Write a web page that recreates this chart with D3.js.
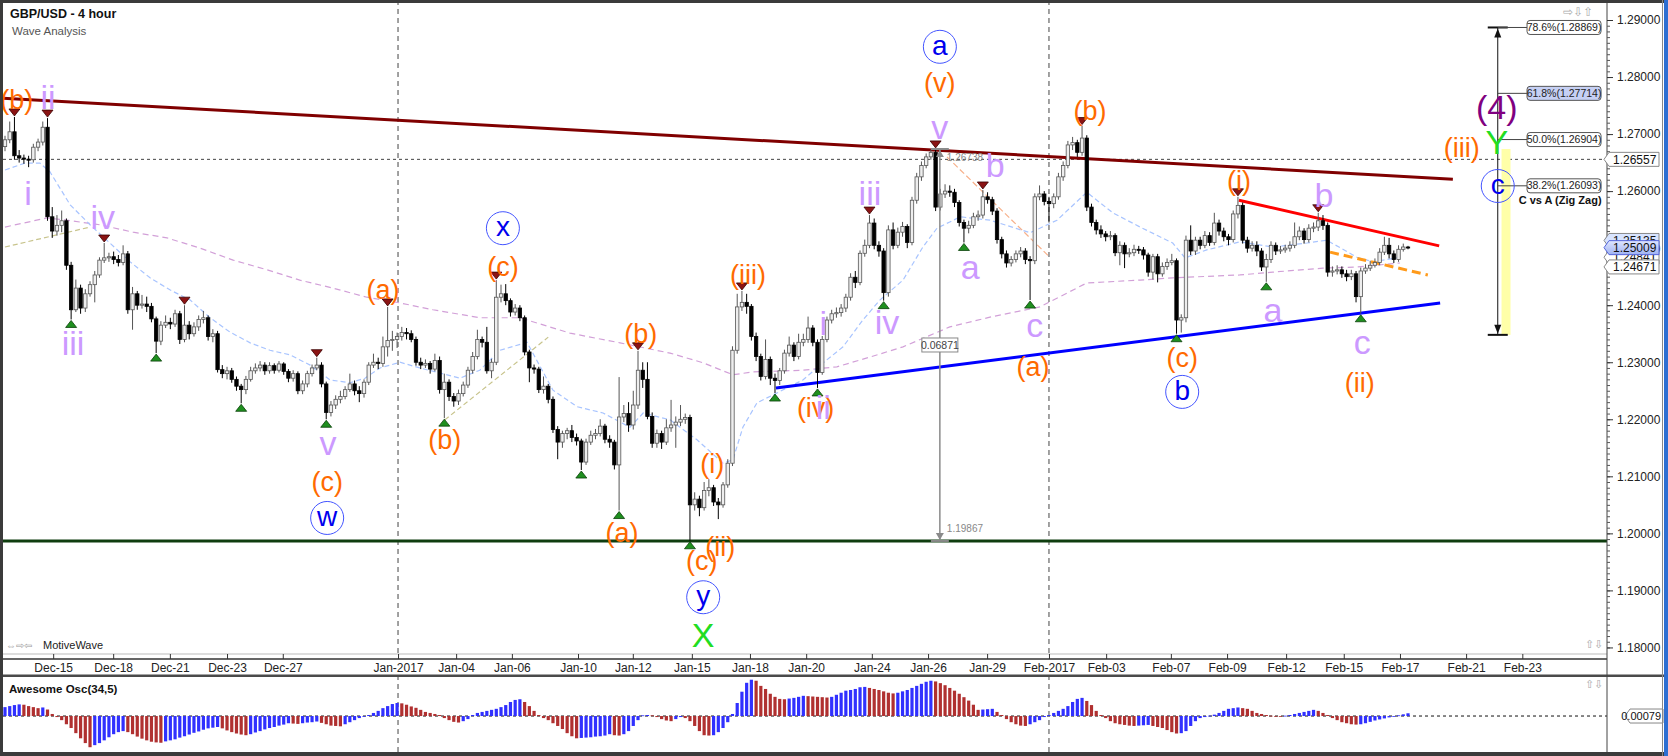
<!DOCTYPE html>
<html>
<head>
<meta charset="utf-8">
<title>GBP/USD - 4 hour</title>
<script src="https://cdn.jsdelivr.net/npm/d3@7/dist/d3.min.js"></script>
<style>
  body { margin: 0; background: #fff; }
  svg text { font-family: "Liberation Sans", Arial, sans-serif; }
</style>
</head>
<body>
<svg id="chart" width="1668" height="756"></svg>
<script>
// price values in 1/10000 above 1.0000 (2690 -> 1.2690), one entry per 4 hour bar
const firstOpen = 2678;
const closes = [
  2690,2704,2662,2658,2656,2655,2677,2686,2712,2555,
  2530,2540,2548,2470,2392,2430,2395,2420,2436,2453,
  2479,2483,2485,2480,2475,2490,2392,2420,2400,2402,
  2398,2376,2337,2365,2370,2367,2385,2340,2365,2350,
  2362,2375,2378,2345,2350,2287,2280,2285,2270,2258,
  2252,2270,2285,2290,2295,2285,2294,2286,2297,2284,
  2272,2280,2250,2262,2280,2290,2295,2262,2212,2225,
  2235,2240,2252,2262,2250,2245,2265,2295,2300,2298,
  2327,2338,2340,2345,2352,2350,2340,2300,2295,2298,
  2288,2303,2252,2265,2240,2232,2245,2260,2286,2310,
  2340,2335,2285,2300,2414,2420,2408,2388,2395,2378,
  2318,2290,2288,2252,2258,2235,2182,2160,2175,2180,
  2168,2162,2125,2160,2172,2175,2188,2165,2160,2120,
  2204,2210,2190,2225,2286,2270,2205,2158,2175,2160,
  2185,2190,2195,2200,2203,2050,2060,2045,2075,2080,
  2055,2050,2085,2123,2321,2397,2405,2398,2345,2310,
  2275,2305,2272,2268,2285,2316,2330,2310,2335,2340,
  2360,2335,2282,2340,2374,2385,2387,2395,2414,2449,
  2440,2491,2505,2544,2505,2495,2422,2532,2505,2528,
  2538,2510,2584,2625,2645,2660,2668,2572,2595,2600,
  2598,2580,2545,2535,2540,2555,2558,2590,2585,2565,
  2515,2490,2474,2480,2490,2495,2480,2478,2590,2595,
  2582,2578,2590,2625,2645,2681,2685,2668,2693,2572,
  2545,2532,2525,2520,2522,2492,2505,2490,2492,2498,
  2497,2488,2458,2485,2455,2468,2475,2478,2374,2378,
  2514,2495,2514,2505,2522,2510,2544,2530,2520,2515,
  2560,2575,2514,2500,2505,2495,2467,2480,2505,2495,
  2497,2500,2505,2520,2530,2515,2535,2537,2548,2540,
  2458,2460,2462,2455,2450,2455,2415,2460,2465,2470,
  2475,2493,2505,2490,2480,2498,2502,2501
];
const highs = [
  2697,2722,2730,2672,2664,2662,2683,2692,2722,2728,
  2572,2558,2566,2552,2476,2445,2436,2428,2442,2460,
  2484,2509,2492,2494,2488,2505,2495,2432,2425,2418,
  2415,2404,2380,2372,2382,2378,2392,2390,2400,2372,
  2370,2382,2390,2382,2358,2355,2295,2292,2290,2275,
  2262,2276,2292,2298,2302,2300,2300,2298,2302,2300,
  2288,2286,2284,2268,2285,2296,2308,2300,2266,2232,
  2242,2250,2258,2280,2268,2258,2270,2300,2315,2308,
  2345,2397,2355,2352,2362,2360,2356,2345,2308,2305,
  2302,2315,2310,2280,2270,2246,2252,2266,2292,2318,
  2357,2345,2362,2306,2444,2436,2437,2412,2402,2400,
  2382,2322,2296,2292,2275,2262,2240,2188,2180,2185,
  2190,2175,2166,2166,2180,2183,2200,2192,2172,2164,
  2274,2225,2230,2250,2320,2300,2300,2212,2182,2180,
  2200,2234,2205,2225,2210,2208,2072,2066,2090,2095,
  2085,2062,2090,2130,2328,2420,2425,2420,2402,2352,
  2315,2340,2310,2280,2290,2322,2345,2335,2350,2350,
  2380,2365,2340,2346,2380,2392,2396,2402,2420,2456,
  2460,2496,2515,2558,2552,2512,2500,2540,2545,2536,
  2546,2542,2590,2632,2652,2666,2672,2674,2604,2612,
  2610,2604,2584,2550,2548,2562,2566,2602,2598,2590,
  2570,2520,2496,2486,2496,2502,2500,2486,2596,2610,
  2600,2590,2596,2632,2652,2688,2695,2690,2715,2698,
  2578,2550,2540,2530,2530,2526,2512,2510,2500,2506,
  2504,2502,2492,2490,2490,2475,2482,2490,2482,2384,
  2522,2540,2520,2520,2530,2528,2562,2550,2536,2525,
  2566,2590,2580,2520,2512,2512,2500,2490,2512,2510,
  2504,2506,2512,2545,2538,2535,2542,2545,2562,2558,
  2545,2468,2470,2468,2462,2462,2460,2466,2472,2478,
  2482,2500,2520,2518,2496,2505,2508,2504
];
const lows = [
  2670,2684,2655,2650,2648,2642,2650,2670,2680,2548,
  2518,2522,2528,2462,2375,2388,2385,2388,2415,2405,
  2448,2474,2476,2472,2468,2470,2385,2357,2392,2394,
  2388,2370,2316,2330,2360,2358,2362,2332,2335,2340,
  2345,2355,2368,2338,2335,2282,2272,2270,2264,2250,
  2228,2244,2266,2280,2284,2278,2280,2280,2282,2278,
  2265,2266,2244,2244,2256,2275,2286,2256,2200,2205,
  2218,2228,2235,2248,2242,2230,2238,2260,2290,2288,
  2292,2310,2320,2325,2338,2340,2335,2294,2288,2290,
  2280,2284,2245,2202,2232,2222,2225,2240,2255,2280,
  2305,2326,2280,2272,2295,2405,2400,2380,2382,2372,
  2312,2265,2280,2246,2245,2228,2176,2130,2150,2165,
  2160,2154,2111,2120,2155,2165,2170,2158,2150,2112,
  2040,2195,2178,2182,2218,2255,2200,2150,2150,2148,
  2155,2178,2150,2188,2192,1987,2040,2030,2040,2065,
  2048,2025,2045,2080,2118,2315,2390,2385,2338,2302,
  2268,2270,2260,2246,2260,2280,2310,2302,2305,2328,
  2334,2328,2255,2278,2335,2368,2378,2380,2388,2408,
  2430,2435,2485,2500,2498,2485,2408,2415,2498,2500,
  2520,2500,2505,2578,2618,2640,2655,2565,2566,2588,
  2590,2572,2538,2510,2526,2535,2548,2552,2578,2558,
  2508,2482,2466,2468,2475,2484,2472,2409,2472,2584,
  2575,2545,2570,2585,2618,2640,2672,2660,2662,2565,
  2538,2524,2518,2512,2514,2486,2470,2465,2484,2486,
  2490,2480,2450,2445,2440,2450,2462,2470,2350,2352,
  2370,2488,2488,2498,2500,2504,2505,2522,2512,2505,
  2510,2552,2508,2492,2494,2486,2460,2441,2474,2488,
  2490,2492,2494,2500,2514,2508,2510,2528,2530,2532,
  2450,2450,2454,2448,2442,2444,2405,2385,2455,2460,
  2466,2470,2488,2482,2474,2476,2494,2498
];
// Awesome Oscillator (34,5), in pips
const aoPips = [
  26,29,32,34,33,29,26,23,25,19,6,
  -3,-12,-24,-35,-50,-65,-79,-91,
  -85,-79,-71,-62,-53,-47,-44,
  -47,-53,-60,-66,-71,-75,-77,-78,
  -74,-71,-68,-63,-59,-54,-49,-45,-40,-36,-34,-32,
  -36,-42,-47,-51,-54,-56,
  -53,-48,-44,-39,-35,-32,-28,-25,-21,
  -22,-23,
  -21,-19,-18,-16,
  -20,-24,-28,-29,-30,
  -24,-18,-12,-6,-2,
  3,9,15,23,29,35,38,
  37,33,28,24,18,12,9,6,3,
  -6,-12,-17,-19,
  -15,-9,
  3,9,12,15,18,21,26,32,41,47,
  49,
  41,29,15,3,
  -6,-12,-21,-29,-38,-50,-59,-65,
  -64,-63,-62,-60,-59,-57,-53,
  -56,-57,
  -53,-44,-29,-12,
  2,3,2,
  -3,-9,-13,-15,
  -9,-3,
  -6,-15,-29,-44,-56,-57,
  -56,-47,-35,-18,
  6,38,71,97,106,
  103,88,79,65,56,50,49,
  51,53,56,59,
  58,57,56,55,54,
  56,62,68,74,76,79,84,85,
  82,79,76,72,68,66,
  68,72,76,82,88,94,100,103,
  101,96,90,82,74,65,55,45,33,18,
  19,20,21,
  12,
  3,-9,-18,-24,-28,-29,
  -24,
  -18,-12,-3,
  3,9,15,21,29,41,50,53,
  44,32,15,3,
  -6,-15,-21,-24,-26,-28,-29,
  -28,-27,-26,
  -29,-32,-35,-41,-47,-51,
  -50,-44,-29,-15,-6,
  -3,1,4,9,15,21,23,25,
  23,21,15,9,6,3,
  1,0,-1,1,
  3,6,9,12,15,18,
  15,9,3,
  -6,-12,-18,-21,-24,-25,
  -24,-21,-17,-13,-10,-7,-4,-1,2,5,8
];

const dateLabels = ["Dec-15","Dec-18","Dec-21","Dec-23","Dec-27","Jan-2017","Jan-04","Jan-06","Jan-10","Jan-12",
  "Jan-15","Jan-18","Jan-20","Jan-24","Jan-26","Jan-29","Feb-2017","Feb-03","Feb-07","Feb-09",
  "Feb-12","Feb-15","Feb-17","Feb-21","Feb-23"];
const dateBars = [10.2,22.9,34.9,47,58.8,83.2,95.5,107.3,121.3,132.9,
  145.4,157.7,169.6,183.5,195.4,207.9,221,233.1,246.8,258.7,
  271.2,283.4,295.3,309.3,321.2];
const monthBars = [83.2, 221];
const priceTicks = d3.range(118, 130).map(v => v / 100);

// moving averages: [bar, price in 1/10000]
const maFast = [[0,2637],[4.2,2649],[7.4,2649],[9.5,2634],[13.8,2576],[18,2541],[22.2,2509],[26.5,2476],
  [30.7,2448],[34.9,2427],[39.2,2409],[43.4,2378],[47.6,2353],[51.9,2334],[56.1,2321],[60.3,2313],
  [64.6,2295],[68.8,2269],[73,2264],[76.2,2272],[79.4,2290],[83.6,2300],[87.8,2290],[92.1,2281],
  [96.3,2272],[100.5,2286],[104.8,2321],[110.5,2335],[116,2251],[121.1,2222],[126.6,2211],[132.3,2186],
  [135.1,2211],[140.8,2199],[146.5,2164],[152,2123],[154.1,2129],[156.2,2186],[159.2,2229],[163.4,2246],
  [168.9,2269],[173.2,2299],[177.4,2327],[181.6,2374],[185.2,2409],[190.1,2444],[194.3,2502],[197.3,2535],
  [200,2546],[202.2,2555],[208.5,2549],[217,2527],[222.7,2549],[229,2598],[234.5,2562],[240.3,2537],
  [247.2,2509],[249.8,2483],[254.4,2497],[261.4,2511],[268.4,2502],[275.6,2509],[279.8,2514],[286.2,2484],
  [289.6,2476],[295.3,2484]];
const maSlow = [[0,2537],[8.9,2553],[13.1,2549],[20.1,2541],[27.1,2528],[34.3,2518],[41.3,2500],[48.3,2479],
  [55.5,2462],[62.4,2444],[69.4,2430],[76.6,2414],[83.6,2404],[90.6,2392],[100.5,2378],[109,2378],
  [119.6,2351],[130.2,2334],[140.8,2316],[147.8,2299],[154.1,2278],[158.3,2283],[168.9,2286],[176.1,2292],
  [183.1,2309],[190.1,2327],[200,2362],[208.5,2379],[219.1,2397],[229,2439],[240.3,2444],[247.2,2448],
  [261.4,2453],[268.4,2458],[279,2465],[286.2,2467],[295.3,2474]];

// drawn lines: [bar, price]
const resistanceLine = [[-0.4, 1.2763], [306.5, 1.2621]];
const supportLine = [[163.2, 1.2255], [303.8, 1.2404]];
const redLine = [[261.2, 1.2584], [303.6, 1.2504]];
const orangeDashLine = [[280.5, 1.2493], [301.2, 1.2453]];
const channelA = [[0, 1.2502], [18, 1.2537]];
const channelB = [[93.1, 1.2199], [115, 1.2344]];
const fadeLine = [[199.4, 1.2660], [221.2, 1.2484]];
const floorPrice = 1.19867;
const markPrice = 1.26557;

const highMarks = [2, 9, 21, 38, 66, 81, 104, 134, 156, 183, 197, 207, 228, 261, 278];
const lowMarks = [14, 32, 50, 68, 93, 122, 130, 145, 163, 172, 186, 203, 217, 248, 267, 287];

// measurement tool
const measureBar = 197.9;
const measureTop = 1.26738;
const measureBottom = 1.19867;

// fibonacci projection
const fibBar = 316;
const fibLevels = ["78.6%", "61.8%", "50.0%", "38.2%"];
const fibPrices = [1.28869, 1.27714, 1.26904, 1.26093];
const fibBottom = 1.2348;

const tagPrices = [1.25135, 1.24841, 1.26557, 1.25009, 1.24671];
const lastPrice = 1.25009;
const aoLast = 0.00079;

const waveLabels = [
  ["(b)", 2.5, 1.2760, "orange"], ["ii", 9.1, 1.2765, "purple"], ["i", 4.9, 1.2597, "purple"],
  ["iii", 14.4, 1.2334, "purple"], ["iv", 20.7, 1.2555, "purple"], ["v", 68.4, 1.2158, "purple"],
  ["(c)", 68.2, 1.2090, "orange"], ["w", 68.2, 1.2027, "circle"], ["(a)", 80, 1.2427, "orange"],
  ["(b)", 93.1, 1.2164, "orange"], ["x", 105.4, 1.2535, "circle"], ["(c)", 105.4, 1.2467, "orange"],
  ["(a)", 130.6, 1.2001, "orange"], ["(b)", 134.6, 1.2351, "orange"], ["(i)", 149.7, 1.2123, "orange"],
  ["(c)", 147.5, 1.1952, "orange"], ["(ii)", 151.4, 1.1976, "orange"], ["y", 147.8, 1.1888, "circle"],
  ["X", 147.8, 1.1822, "green"], ["(iii)", 157.3, 1.2453, "orange"], ["(iv)", 171.6, 1.2220, "orange"],
  ["ii", 173.2, 1.2222, "purple"], ["i", 173.2, 1.2369, "purple"], ["iii", 183.1, 1.2597, "purple"],
  ["iv", 186.7, 1.2371, "purple"], ["v", 197.9, 1.2712, "purple"], ["(v)", 197.9, 1.2791, "orange"],
  ["a", 197.9, 1.2853, "circle"], ["a", 204.3, 1.2467, "purple"], ["b", 209.6, 1.2646, "purple"],
  ["c", 218, 1.2365, "purple"], ["(a)", 217.6, 1.2292, "orange"], ["(b)", 229.7, 1.2742, "orange"],
  ["(c)", 249.2, 1.2309, "orange"], ["b", 249.2, 1.2248, "circle"], ["(i)", 261.2, 1.2619, "orange"],
  ["a", 268.4, 1.2391, "purple"], ["b", 279.2, 1.2593, "purple"], ["c", 287.3, 1.2336, "purple"],
  ["(ii)", 286.8, 1.2265, "orange"], ["(iii)", 308.4, 1.2676, "orange"], ["Y", 315.8, 1.2686, "green"],
  ["(4)", 315.8, 1.2747, "plum"], ["c", 316, 1.2609, "circle"]
];

(function () {
  const W = 1668, H = 756;
  const left = 3, right = 1607, mainTop = 3, mainBottom = 654;
  const oscTop = 677, oscBottom = 752;
  const toPrice = p => 1 + p / 10000;
  const opens = [firstOpen].concat(closes.slice(0, -1));

  const svg = d3.select("#chart");

  const x = d3.scaleLinear().domain([0, closes.length - 1]).range([5, 1408]);
  const y = d3.scaleLinear().domain([1.18, 1.29]).range([647.44, 20]);
  const yo = d3.scaleLinear().domain([-0.0105, 0.0111]).range([oscBottom, 678]);

  svg.append("rect").attr("width", W).attr("height", H).attr("fill", "#fff");

  const defs = svg.append("defs");
  defs.append("clipPath").attr("id", "clipMain").append("rect")
    .attr("x", left).attr("y", mainTop).attr("width", right - left).attr("height", mainBottom - mainTop);
  defs.append("clipPath").attr("id", "clipOsc").append("rect")
    .attr("x", left).attr("y", oscTop).attr("width", right - left).attr("height", oscBottom - oscTop);
  let grad = defs.append("linearGradient").attr("id", "lastGrad").attr("x1", 0).attr("x2", 0).attr("y1", 0).attr("y2", 1);
  grad.append("stop").attr("offset", 0).attr("stop-color", "#dfe6ff");
  grad.append("stop").attr("offset", 1).attr("stop-color", "#9fb2f2");

  const main = svg.append("g").attr("clip-path", "url(#clipMain)");
  const osc = svg.append("g").attr("clip-path", "url(#clipOsc)");

  // month separators
  [main, osc].forEach(g => {
    g.selectAll(null).data(monthBars).join("line")
      .attr("x1", d => x(d)).attr("x2", d => x(d))
      .attr("y1", 0).attr("y2", H)
      .attr("stroke", "#444").attr("stroke-width", 1).attr("stroke-dasharray", "5,4");
  });

  // current level
  main.append("line")
    .attr("x1", left).attr("x2", right)
    .attr("y1", y(markPrice)).attr("y2", y(markPrice))
    .attr("stroke", "#444").attr("stroke-dasharray", "3,3");

  // moving averages
  const maLine = d3.line().x(d => x(d[0])).y(d => y(toPrice(d[1])));
  main.append("path").datum(maSlow).attr("d", maLine)
    .attr("fill", "none").attr("stroke", "#d2a0d8").attr("stroke-width", 1.2).attr("stroke-dasharray", "6,4");
  main.append("path").datum(maFast).attr("d", maLine)
    .attr("fill", "none").attr("stroke", "#a8c4ff").attr("stroke-width", 1.2).attr("stroke-dasharray", "5,3");

  // trend lines
  const pLine = d3.line().x(d => x(d[0])).y(d => y(d[1]));
  const drawLine = (pts, color, w, dash) => {
    let p = main.append("path").datum(pts).attr("d", pLine)
      .attr("fill", "none").attr("stroke", color).attr("stroke-width", w);
    if (dash) p.attr("stroke-dasharray", dash);
  };
  drawLine(channelA, "#c8c48c", 1.2, "5,3");
  drawLine(channelB, "#c8c48c", 1.2, "5,3");
  drawLine(fadeLine, "#f7b08a", 1.2, "6,3");
  drawLine([[-5, floorPrice], [345, floorPrice]], "#0f3d0f", 3);
  drawLine(resistanceLine, "#800000", 3);
  drawLine(supportLine, "#0000ff", 3);
  drawLine(redLine, "#ff0000", 3);
  drawLine(orangeDashLine, "#ff9a1a", 3, "9,5");

  // candles
  const candles = main.append("g");
  const up = i => closes[i] >= opens[i];
  candles.selectAll("line").data(closes).join("line")
    .attr("x1", (d, i) => x(i)).attr("x2", (d, i) => x(i))
    .attr("y1", (d, i) => y(toPrice(highs[i]))).attr("y2", (d, i) => y(toPrice(lows[i])))
    .attr("stroke", (d, i) => up(i) ? "#555" : "#000").attr("stroke-width", 1);
  candles.selectAll("rect").data(closes).join("rect")
    .attr("x", (d, i) => x(i) - 1.7).attr("width", 3.4)
    .attr("y", (d, i) => y(toPrice(Math.max(d, opens[i]))))
    .attr("height", (d, i) => Math.max(1, Math.abs(y(toPrice(d)) - y(toPrice(opens[i])))))
    .attr("fill", (d, i) => up(i) ? "#eeeeee" : "#000")
    .attr("stroke", (d, i) => up(i) ? "#555" : "#000").attr("stroke-width", 0.8);

  // swing markers
  main.selectAll(".hm").data(highMarks).join("path")
    .attr("d", i => {
      let cx = x(i), cy = y(toPrice(highs[i])) - 1;
      return `M${cx - 5.5},${cy - 7}L${cx + 5.5},${cy - 7}L${cx},${cy}Z`;
    })
    .attr("fill", "#8b1414").attr("stroke", "#3a0000").attr("stroke-width", 0.8);
  main.selectAll(".lm").data(lowMarks).join("path")
    .attr("d", i => {
      let cx = x(i), cy = y(toPrice(lows[i])) + 1;
      return `M${cx - 5.5},${cy + 7}L${cx + 5.5},${cy + 7}L${cx},${cy}Z`;
    })
    .attr("fill", "#1f8f1f").attr("stroke", "#0a400a").attr("stroke-width", 0.8);

  // measurement tool
  let mx = x(measureBar), mt = y(measureTop), mb = y(measureBottom);
  let mg = main.append("g").attr("stroke", "#8a8a8a").attr("fill", "#8a8a8a");
  mg.append("line").attr("x1", mx).attr("x2", mx).attr("y1", mt).attr("y2", mb).attr("stroke-width", 1.5);
  mg.append("line").attr("x1", mx - 9).attr("x2", mx + 9).attr("y1", mt).attr("y2", mt).attr("stroke-width", 2);
  mg.append("line").attr("x1", mx - 9).attr("x2", mx + 9).attr("y1", mb).attr("y2", mb).attr("stroke-width", 2);
  mg.append("path").attr("d", `M${mx - 4},${mt + 8}L${mx + 4},${mt + 8}L${mx},${mt + 1}Z`).attr("stroke", "none");
  mg.append("path").attr("d", `M${mx - 4},${mb - 8}L${mx + 4},${mb - 8}L${mx},${mb - 1}Z`).attr("stroke", "none");
  main.append("text").attr("x", mx + 7).attr("y", mt + 12).attr("font-size", 10).attr("fill", "#888")
    .text(d3.format(".5f")(measureTop));
  main.append("text").attr("x", mx + 7).attr("y", mb - 9).attr("font-size", 10).attr("fill", "#888")
    .text(d3.format(".5f")(measureBottom));
  let midY = y((measureTop + measureBottom) / 2);
  main.append("rect").attr("x", mx - 18).attr("y", midY - 7).attr("width", 36).attr("height", 14)
    .attr("fill", "#fff").attr("stroke", "#888");
  main.append("text").attr("x", mx).attr("y", midY).attr("dy", "0.35em").attr("text-anchor", "middle")
    .attr("font-size", 10.5).attr("fill", "#444").text(d3.format(".5f")(measureTop - measureBottom));

  // fibonacci tool
  let fx = x(fibBar);
  main.append("rect").attr("x", x(316.8)).attr("width", x(318.7) - x(316.8))
    .attr("y", y(measureTop)).attr("height", y(fibBottom) - y(measureTop))
    .attr("fill", "#ffffa8");
  let fg = main.append("g").attr("stroke", "#111").attr("fill", "#111");
  fg.append("line").attr("x1", fx).attr("x2", fx).attr("y1", y(fibPrices[0])).attr("y2", y(fibBottom)).attr("stroke-width", 1);
  fg.append("line").attr("x1", fx - 10).attr("x2", fx + 10).attr("y1", y(fibPrices[0])).attr("y2", y(fibPrices[0])).attr("stroke-width", 2);
  fg.append("line").attr("x1", fx - 10).attr("x2", fx + 10).attr("y1", y(fibBottom)).attr("y2", y(fibBottom)).attr("stroke-width", 2);
  fg.append("path").attr("d", `M${fx - 3.5},${y(fibPrices[0]) + 10}L${fx + 3.5},${y(fibPrices[0]) + 10}L${fx},${y(fibPrices[0]) + 1}Z`).attr("stroke", "none");
  fg.append("path").attr("d", `M${fx - 3.5},${y(fibBottom) - 10}L${fx + 3.5},${y(fibBottom) - 10}L${fx},${y(fibBottom) - 1}Z`).attr("stroke", "none");

  let bx = x(322.2);
  fibPrices.forEach((p, i) => {
    let fy = y(p);
    main.append("line").attr("x1", fx).attr("x2", bx).attr("y1", fy).attr("y2", fy).attr("stroke", "#444");
    main.append("rect").attr("x", bx).attr("y", fy - 7).attr("width", 74).attr("height", 14).attr("rx", 3)
      .attr("fill", i === 1 ? "#c6d0f4" : "#fff").attr("stroke", "#555");
    main.append("text").attr("x", bx + 37).attr("y", fy).attr("dy", "0.35em").attr("text-anchor", "middle")
      .attr("font-size", 10.5).attr("fill", "#222").text(`${fibLevels[i]}(${d3.format(".5f")(p)})`);
  });
  main.append("text").attr("x", x(329.2)).attr("y", y(fibPrices[3]) + 18).attr("text-anchor", "middle")
    .attr("font-size", 11).attr("font-weight", "bold").attr("fill", "#111").text("C vs A (Zig Zag)");

  // wave labels
  const styles = {
    orange: { fill: "#ff6a00", size: 27 },
    purple: { fill: "#cc99ff", size: 34 },
    green: { fill: "#22dd22", size: 34 },
    plum: { fill: "#800080", size: 34 },
    circle: { fill: "#0000ee", size: 28 }
  };
  waveLabels.forEach(([t, b, p, k]) => {
    let s = styles[k], lx = x(b), ly = y(p);
    if (k === "circle") {
      main.append("circle").attr("cx", lx).attr("cy", ly).attr("r", 16.5)
        .attr("fill", "none").attr("stroke", "#4455ff").attr("stroke-width", 1);
    }
    main.append("text").attr("x", lx).attr("y", ly)
      .attr("dy", k === "circle" ? "0.28em" : "0.35em")
      .attr("text-anchor", "middle").attr("font-size", s.size).attr("fill", s.fill)
      .text(t);
  });

  // awesome oscillator
  osc.append("line").attr("x1", left).attr("x2", right).attr("y1", yo(0)).attr("y2", yo(0))
    .attr("stroke", "#111").attr("stroke-dasharray", "3,3");
  osc.selectAll("rect.ao").data(aoPips).join("rect")
    .attr("x", (d, i) => x(i) - 1.6).attr("width", 3.2)
    .attr("y", d => Math.min(yo(d / 10000), yo(0)))
    .attr("height", d => Math.max(0.8, Math.abs(yo(d / 10000) - yo(0))))
    .attr("fill", (d, i) => (i === 0 || d >= aoPips[i - 1]) ? "#3030ff" : "#b03030");

  // separators and axis frame
  svg.append("line").attr("x1", left).attr("x2", right).attr("y1", mainBottom).attr("y2", mainBottom).attr("stroke", "#bbb");
  svg.append("line").attr("x1", left).attr("x2", right).attr("y1", 659).attr("y2", 659).attr("stroke", "#333").attr("stroke-width", 1.3);
  svg.append("rect").attr("x", 0).attr("y", 674.5).attr("width", W).attr("height", 2.5).attr("fill", "#4a4a4a");
  svg.append("line").attr("x1", right).attr("x2", right).attr("y1", 0).attr("y2", H).attr("stroke", "#444");

  // date axis
  const xAxis = svg.append("g").attr("transform", "translate(0,659)")
    .call(d3.axisBottom(x).tickValues(dateBars).tickFormat((d, i) => dateLabels[i])
      .tickSizeInner(-5).tickSizeOuter(0).tickPadding(4));
  xAxis.select(".domain").remove();
  xAxis.attr("font-family", "Liberation Sans, Arial, sans-serif").attr("font-size", 12);
  xAxis.selectAll("line").attr("stroke", "#333");
  xAxis.selectAll("text").attr("fill", "#222");

  // price axis
  const minor = svg.append("g").attr("transform", `translate(${right},0)`)
    .call(d3.axisRight(y).tickValues(d3.range(1180, 1291).map(v => v / 1000)).tickSize(3).tickFormat(""));
  minor.select(".domain").remove();
  minor.selectAll("line").attr("stroke", "#555");
  const pAxis = svg.append("g").attr("transform", `translate(${right},0)`)
    .call(d3.axisRight(y).tickValues(priceTicks).tickFormat(d3.format(".5f")).tickSize(6).tickPadding(4));
  pAxis.select(".domain").remove();
  pAxis.attr("font-family", "Liberation Sans, Arial, sans-serif").attr("font-size", 12);
  pAxis.selectAll("line").attr("stroke", "#333");
  pAxis.selectAll("text").attr("fill", "#222");

  // price tags on the axis
  const tag = (p, label, fill, stroke) => {
    let ty = y(p);
    svg.append("path")
      .attr("d", `M${right - 3},${ty}L${right + 2},${ty - 7}H${right + 52}V${ty + 7}H${right + 2}Z`)
      .attr("fill", fill).attr("stroke", stroke).attr("stroke-width", 1);
    svg.append("text").attr("x", right + 6).attr("y", ty).attr("dy", "0.35em")
      .attr("font-size", 12).attr("fill", "#111").text(label);
  };
  tagPrices.forEach(p => {
    let fill = p === lastPrice ? "url(#lastGrad)" : (p === tagPrices[0] ? "#d8e4ff" : "#fff");
    let stroke = p === lastPrice ? "#5566dd" : "#888";
    tag(p, d3.format(".5f")(p), fill, stroke);
  });
  let oy = yo(0);
  svg.append("path")
    .attr("d", `M${right + 18},${oy}L${right + 23},${oy - 7}H${right + 56}V${oy + 7}H${right + 23}Z`)
    .attr("fill", "#fff").attr("stroke", "#888");
  svg.append("text").attr("x", right + 54).attr("y", oy).attr("dy", "0.35em").attr("text-anchor", "end")
    .attr("font-size", 11).attr("fill", "#111").text(d3.format(".5f")(aoLast));

  // titles and small captions
  svg.append("text").attr("x", 10).attr("y", 18).attr("font-size", 12.5).attr("font-weight", "bold").attr("fill", "#111").text("GBP/USD - 4 hour");
  svg.append("text").attr("x", 12).attr("y", 35).attr("font-size", 11.5).attr("fill", "#555").text("Wave Analysis");
  svg.append("text").attr("x", 9).attr("y", 693).attr("font-size", 11.5).attr("font-weight", "bold").attr("fill", "#111").text("Awesome Osc(34,5)");
  svg.append("text").attr("x", 6).attr("y", 649).attr("font-size", 10).attr("fill", "#999")
    .attr("font-family", "DejaVu Sans").text("\u21D4\u21E8\u21E6");
  svg.append("text").attr("x", 43).attr("y", 649).attr("font-size", 11).attr("fill", "#222").text("MotiveWave");
  svg.append("text").attr("x", 1563).attr("y", 16).attr("font-size", 12).attr("fill", "#aaa")
    .attr("font-family", "DejaVu Sans").text("\u21E8\u21E9\u21E7");
  svg.append("text").attr("x", 1585).attr("y", 648).attr("font-size", 11).attr("fill", "#aaa")
    .attr("font-family", "DejaVu Sans").text("\u21E7\u21E9");
  svg.append("text").attr("x", 1585).attr("y", 688).attr("font-size", 11).attr("fill", "#aaa")
    .attr("font-family", "DejaVu Sans").text("\u21E7\u21E9");

  // outer frame
  svg.append("rect").attr("x", 0).attr("y", 0).attr("width", W).attr("height", 3).attr("fill", "#3b3b3b");
  svg.append("rect").attr("x", 0).attr("y", 0).attr("width", 3).attr("height", H).attr("fill", "#3b3b3b");
  svg.append("rect").attr("x", 0).attr("y", 752).attr("width", W).attr("height", 4).attr("fill", "#3b3b3b");
  svg.append("rect").attr("x", 1662).attr("y", 0).attr("width", 1).attr("height", H).attr("fill", "#888");
  svg.append("rect").attr("x", 1664).attr("y", 0).attr("width", 4).attr("height", H).attr("fill", "#2d6fd2");
})();
</script>
</body>
</html>
